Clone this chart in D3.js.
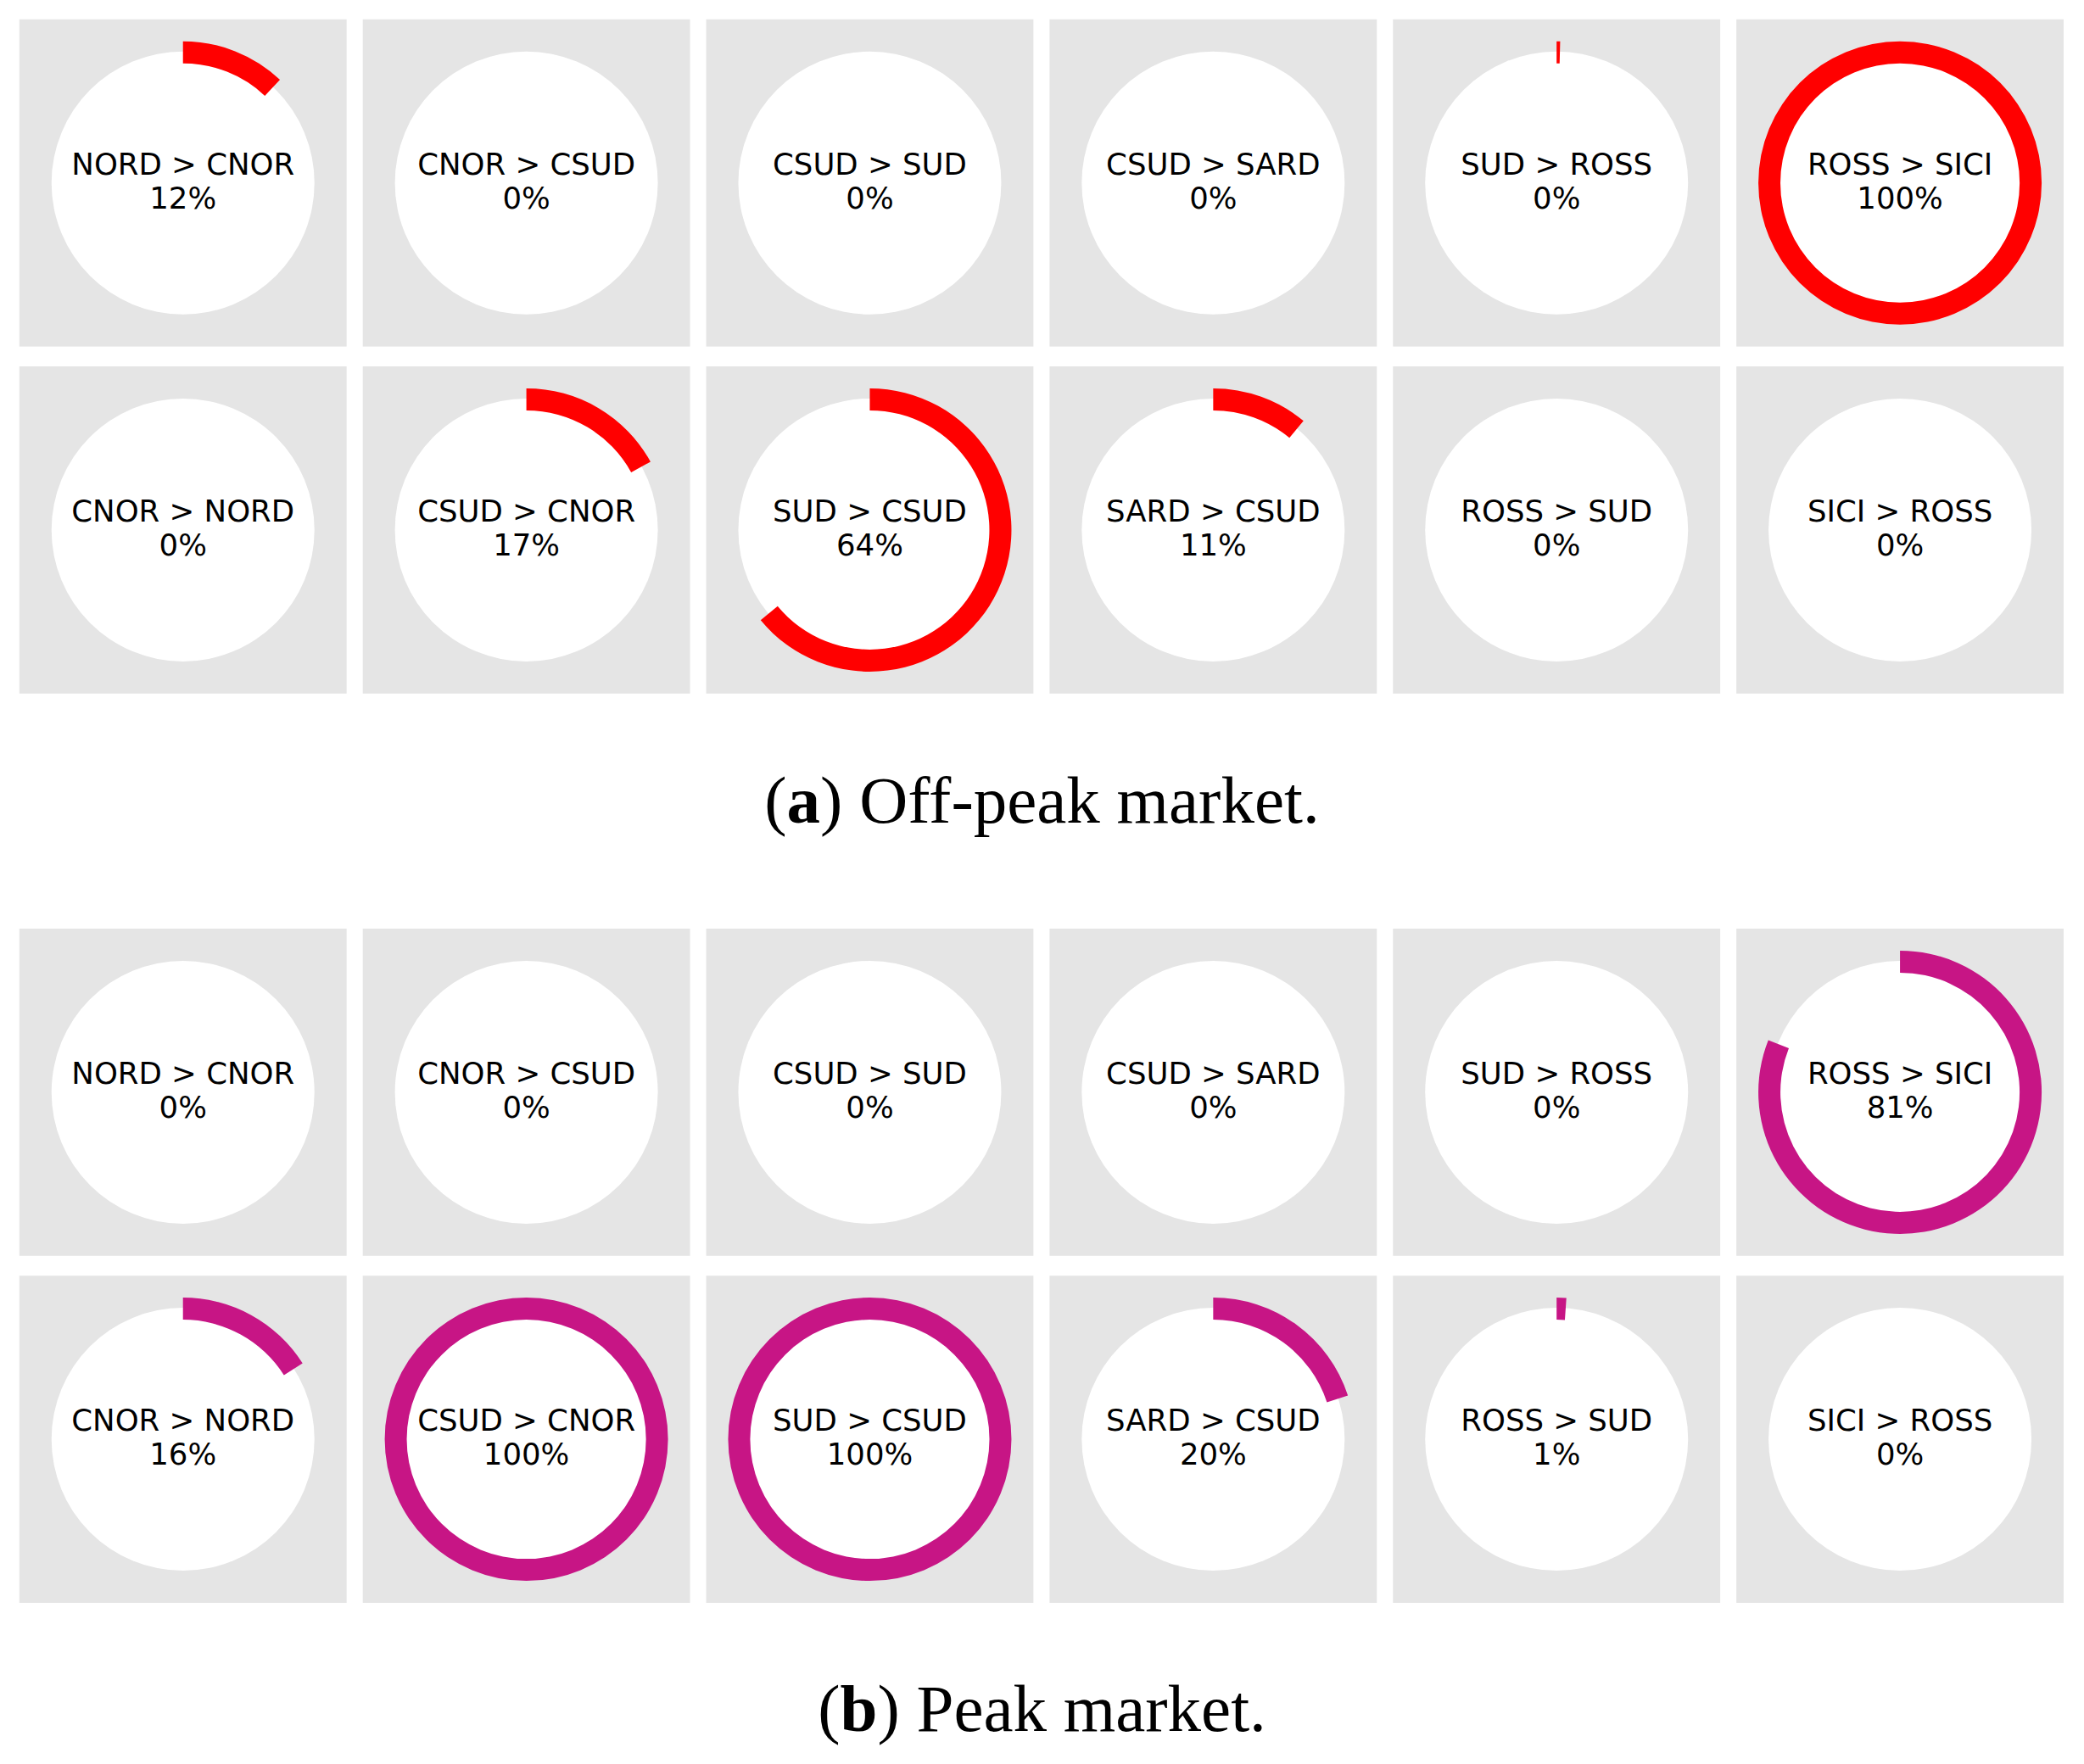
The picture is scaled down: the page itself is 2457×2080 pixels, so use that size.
<!DOCTYPE html>
<html>
<head>
<meta charset="utf-8">
<script src="https://cdn.jsdelivr.net/npm/d3@7"></script>
<style>
  html, body { margin: 0; padding: 0; background: #ffffff; }
  svg { display: block; }
</style>
</head>
<body>
<script>
// ---------- data ----------
const routes = [
  "NORD > CNOR", "CNOR > CSUD", "CSUD > SUD", "CSUD > SARD", "SUD > ROSS", "ROSS > SICI",
  "CNOR > NORD", "CSUD > CNOR", "SUD > CSUD", "SARD > CSUD", "ROSS > SUD", "SICI > ROSS"
];
const offPeakValues = [0.12, 0, 0, 0, 0.004, 1.00,
                       0, 0.17, 0.64, 0.11, 0, 0];
const peakValues    = [0, 0, 0, 0, 0, 0.81,
                       0.16, 1.00, 1.00, 0.20, 0.011, 0];
const captionLetters = ["a", "b"];
const captionTexts = [" Off-peak market.", " Peak market."];
const seriesColors = ["#ff0000", "#c71585"];

// ---------- layout ----------
const W = 2457, H = 2080;
const svg = d3.select("body").append("svg").attr("width", W).attr("height", H);

const nCols = 6;
const x = d3.scaleBand().domain(d3.range(nCols)).range([22.8, 2433]).paddingInner(0.047).paddingOuter(0);
const groupTops = [22.8, 1095];
const captionBaselines = [970, 2041];
const angle = d3.scaleLinear().domain([0, 1]).range([0, 2 * Math.PI]);
const fmt = d3.format(".0%");

const circleR = 155;
const arcGen = d3.arc().innerRadius(141).outerRadius(167).startAngle(0);

const groups = [offPeakValues, peakValues];

groups.forEach((vals, gi) => {
  const y = d3.scaleBand().domain([0, 1]).range([groupTops[gi], groupTops[gi] + 795]).paddingInner(0.0572).paddingOuter(0);
  const data = routes.map((r, i) => ({ route: r, value: vals[i], col: i % nCols, row: Math.floor(i / nCols) }));
  const g = svg.append("g");
  const cell = g.selectAll("g.cell").data(data).join("g")
    .attr("class", "cell")
    .attr("transform", d => `translate(${x(d.col)},${y(d.row)})`);

  const bw = x.bandwidth(), bh = y.bandwidth();
  cell.append("rect").attr("width", bw).attr("height", bh).attr("fill", "#e5e5e5");

  const c = cell.append("g").attr("transform", `translate(${bw / 2},${bh / 2})`);
  c.append("circle").attr("r", circleR).attr("fill", "#ffffff");
  c.filter(d => d.value > 0).append("path")
    .attr("d", d => arcGen({ endAngle: angle(d.value) }))
    .attr("fill", seriesColors[gi]);

  const t = c.append("text")
    .attr("text-anchor", "middle")
    .attr("font-family", "DejaVu Sans, sans-serif")
    .attr("font-size", 35.5)
    .attr("fill", "#000");
  t.append("tspan").attr("x", 0).attr("y", -10).text(d => d.route);
  t.append("tspan").attr("x", 0).attr("y", 30.3).text(d => fmt(d.value));

  const cap = svg.append("text")
    .attr("x", W / 2).attr("y", captionBaselines[gi])
    .attr("text-anchor", "middle")
    .attr("font-family", "Liberation Serif, serif")
    .attr("font-size", 79)
    .attr("fill", "#000");
  cap.append("tspan").text("(");
  cap.append("tspan").attr("font-weight", "bold").text(captionLetters[gi]);
  cap.append("tspan").text(")" + captionTexts[gi]);
});
</script>
</body>
</html>
